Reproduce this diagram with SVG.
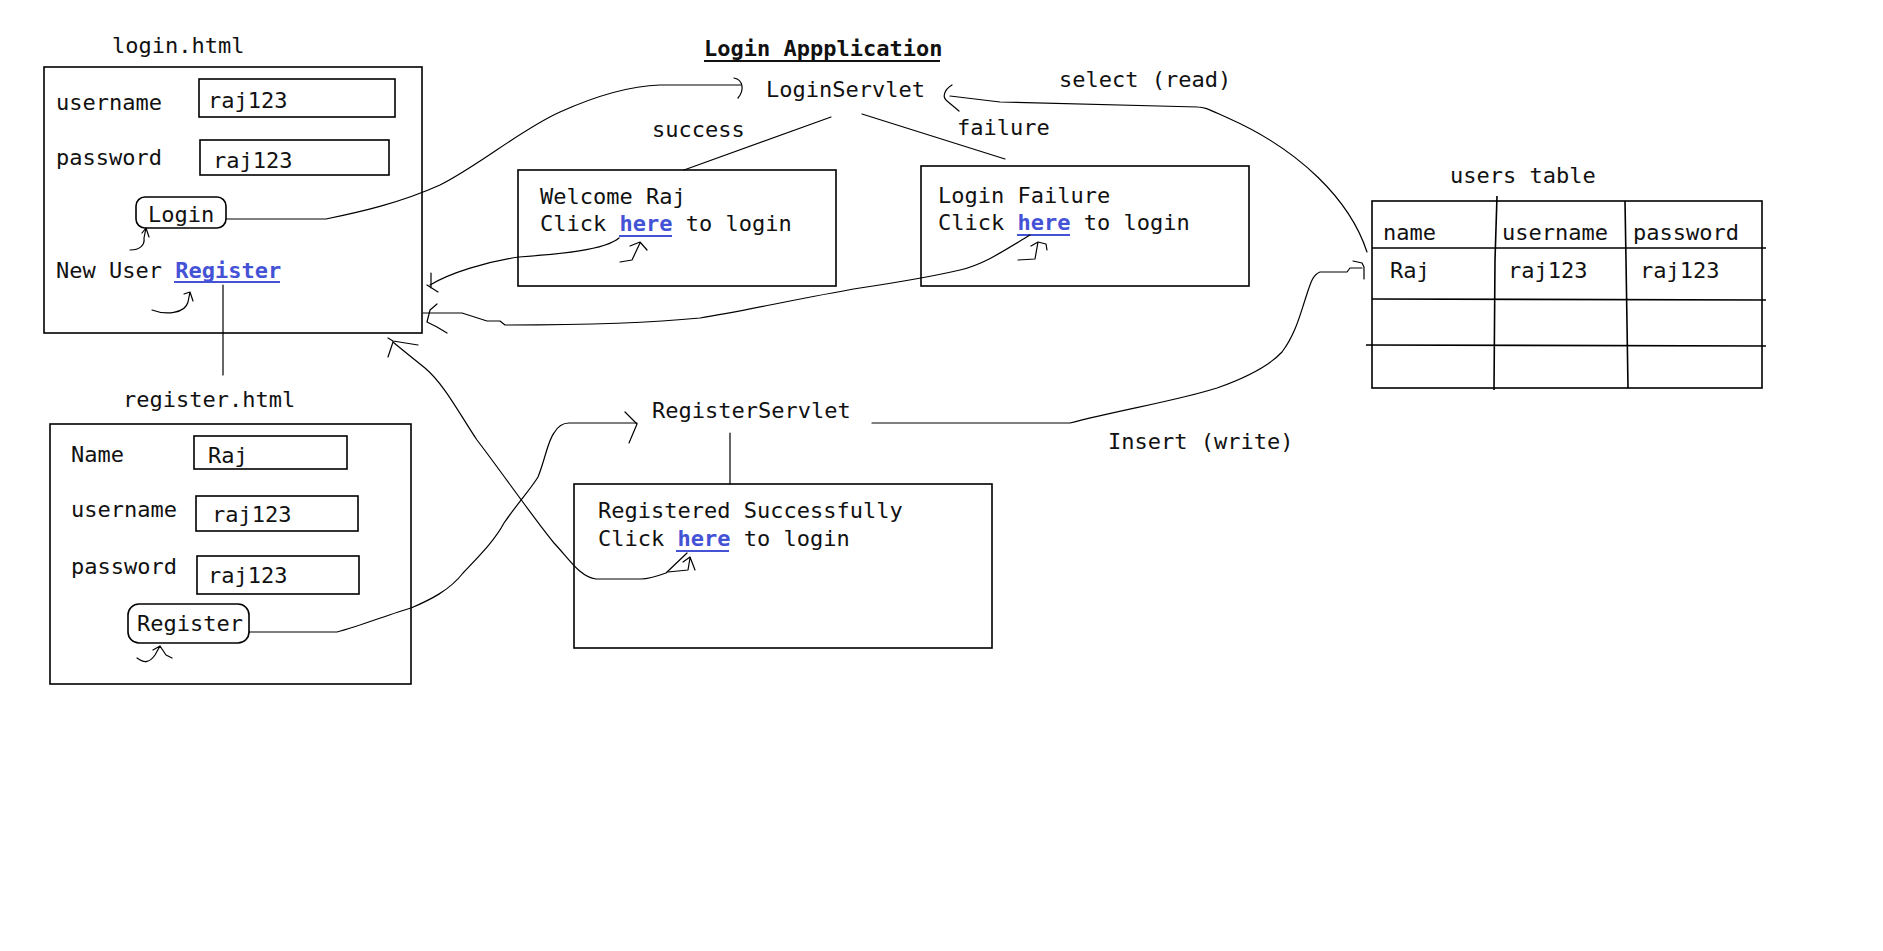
<svg xmlns="http://www.w3.org/2000/svg" width="1883" height="951" viewBox="0 0 1883 951">
<style>
text{font-family:"DejaVu Sans Mono","Liberation Mono",monospace;font-size:22px;fill:#111}
.b{fill:none;stroke:#000;stroke-width:1.6}
.c{fill:none;stroke:#000;stroke-width:1.2;stroke-linejoin:round;stroke-linecap:round}
.link{fill:#4452d6;font-weight:bold}
.ul{stroke:#4452d6;stroke-width:2}
.title{font-weight:bold}
</style>
<rect width="1883" height="951" fill="#fff"/>

<g id="title">
<text class="title" x="704" y="56">Login Appplication</text>
<line x1="704" y1="61" x2="940" y2="61" stroke="#111" stroke-width="2"/>
</g>

<g id="login-page">
<text x="112" y="53">login.html</text>
<rect class="b" x="44" y="67" width="378" height="266"/>
<text x="56" y="110">username</text>
<rect class="b" x="199" y="79" width="196" height="38"/>
<text x="208" y="108">raj123</text>
<text x="56" y="165">password</text>
<rect class="b" x="200" y="140" width="189" height="35"/>
<text x="213" y="168">raj123</text>
<rect class="b" x="136" y="197" width="90" height="31" rx="9"/>
<text x="148" y="222">Login</text>
<text x="56" y="278">New User <tspan class="link">Register</tspan></text>
<line class="ul" x1="174" y1="282" x2="280" y2="282"/>
</g>

<g id="register-page">
<text x="123" y="407">register.html</text>
<rect class="b" x="50" y="424" width="361" height="260"/>
<text x="71" y="462">Name</text>
<rect class="b" x="194" y="436" width="153" height="33"/>
<text x="208" y="463">Raj</text>
<text x="71" y="517">username</text>
<rect class="b" x="196" y="496" width="162" height="35"/>
<text x="212" y="522">raj123</text>
<text x="71" y="574">password</text>
<rect class="b" x="197" y="556" width="162" height="38"/>
<text x="208" y="583">raj123</text>
<rect class="b" x="128" y="604" width="121" height="39" rx="11"/>
<text x="137" y="631">Register</text>
</g>

<g id="login-servlet">
<text x="766" y="97">LoginServlet</text>
<text x="652" y="137">success</text>
<text x="957" y="135">failure</text>
</g>

<g id="welcome-page">
<rect class="b" x="518" y="170" width="318" height="116"/>
<text x="540" y="204">Welcome Raj</text>
<text x="540" y="231">Click <tspan class="link">here</tspan> to login</text>
<line class="ul" x1="619" y1="236" x2="672" y2="236"/>
</g>

<g id="failure-page">
<rect class="b" x="921" y="166" width="328" height="120"/>
<text x="938" y="203">Login Failure</text>
<text x="938" y="230">Click <tspan class="link">here</tspan> to login</text>
<line class="ul" x1="1017" y1="235" x2="1070" y2="235"/>
</g>

<g id="register-servlet">
<text x="652" y="418">RegisterServlet</text>
<text x="1108" y="449">Insert (write)</text>
</g>

<g id="registered-page">
<rect class="b" x="574" y="484" width="418" height="164"/>
<text x="598" y="518">Registered Successfully</text>
<text x="598" y="546">Click <tspan class="link">here</tspan> to login</text>
<line class="ul" x1="676" y1="551" x2="729" y2="551"/>
</g>

<g id="users-table">
<text x="1059" y="87">select (read)</text>
<text x="1450" y="183">users table</text>
<rect class="b" x="1372" y="201" width="390" height="187"/>
<path class="b" d="M1497,196 L1495,260 L1494,390 M1625,201 L1626,260 L1628,388 M1372,248 L1766,248 M1372,299 L1766,300 M1366,345 L1766,346"/>
<text x="1383" y="240">name</text>
<text x="1502" y="240">username</text>
<text x="1633" y="240">password</text>
<text x="1390" y="278">Raj</text>
<text x="1508" y="278">raj123</text>
<text x="1640" y="278">raj123</text>
</g>

<g id="connectors">
<!-- Login button to LoginServlet -->
<path class="c" d="M226,219 L326,219 C360,212 400,203 440,185 C480,165 520,130 560,112 C600,94 630,86 660,85 L741,85"/>
<path class="c" d="M734,78 C744,80 744,91 738,98"/>
<!-- LoginServlet branches -->
<path class="c" d="M831,117 L684,170"/>
<path class="c" d="M862,114 L1005,159"/>
<!-- select (read) -->
<path class="c" d="M1367,252 C1350,200 1300,150 1228,118 C1210,110 1205,107 1198,107 L1000,102 L950,96"/>
<path class="c" d="M952,85 C944,90 942,97 947,101 L959,111"/>
<!-- welcome here back to login -->
<path class="c" d="M619,238 C605,250 560,254 519,257 C485,262 450,273 430,285"/>
<path class="c" d="M431,273 L431,288 M427,285 L438,292"/>
<!-- failure here back to login -->
<path class="c" d="M1030,235 C1005,250 985,264 960,270 C930,277 900,282 860,288 C800,298 740,312 700,318 C640,324 560,325 505,325 L500,321 L487,321 L462,313 L423,313"/>
<path class="c" d="M437,304 L430,310 L427,322 L437,327 L447,333"/>
<!-- Register link to register page -->
<path class="c" d="M223,285 L223,375"/>
<!-- Register button to RegisterServlet -->
<path class="c" d="M249,632 L337,632 C360,626 390,614 411,608 C430,600 450,590 463,573 C480,555 495,540 504,523 C520,500 530,490 538,477 C545,460 548,440 554,433 C558,426 562,423 569,423 L637,423"/>
<path class="c" d="M625,412 L637,424 L629,443"/>
<!-- RegisterServlet to registered page -->
<path class="c" d="M730,433 L730,484"/>
<!-- registered here back to login -->
<path class="c" d="M687,553 L666,573 C655,577 645,579 641,579 L596,579 C580,577 570,560 554,543 C535,520 500,470 477,440 C460,415 445,385 425,368 C410,356 400,348 393,342"/>
<path class="c" d="M388,338 L393,341 L418,345 M393,342 L388,357"/>
<!-- Insert (write) -->
<path class="c" d="M872,423 L1070,423 C1120,410 1180,400 1217,388 C1245,378 1270,365 1282,352 C1295,335 1300,315 1305,300 C1310,285 1312,275 1320,272 L1347,272 L1350,268 L1362,268"/>
<path class="c" d="M1353,261 L1362,263 L1364,267 L1364,279"/>
<!-- click marks -->
<path class="c" d="M130,250 C140,250 145,245 144,238 L146,228 M142,233 L146,228 L149,237"/>
<path class="c" d="M152,310 C165,315 185,314 188,302 L190,292 L193,301 M184,294 L190,292"/>
<path class="c" d="M137,658 C145,664 150,662 155,655 L160,646 L166,655 L172,658 M153,650 L160,646"/>
<path class="c" d="M620,262 L632,260 L640,243 M630,246 L640,242 L647,250"/>
<path class="c" d="M1018,260 L1035,259 L1038,242 M1031,246 L1038,242 L1046,244 L1047,250"/>
<path class="c" d="M668,572 L688,570 L690,558 M683,562 L690,557 L695,570"/>
</g>
</svg>
